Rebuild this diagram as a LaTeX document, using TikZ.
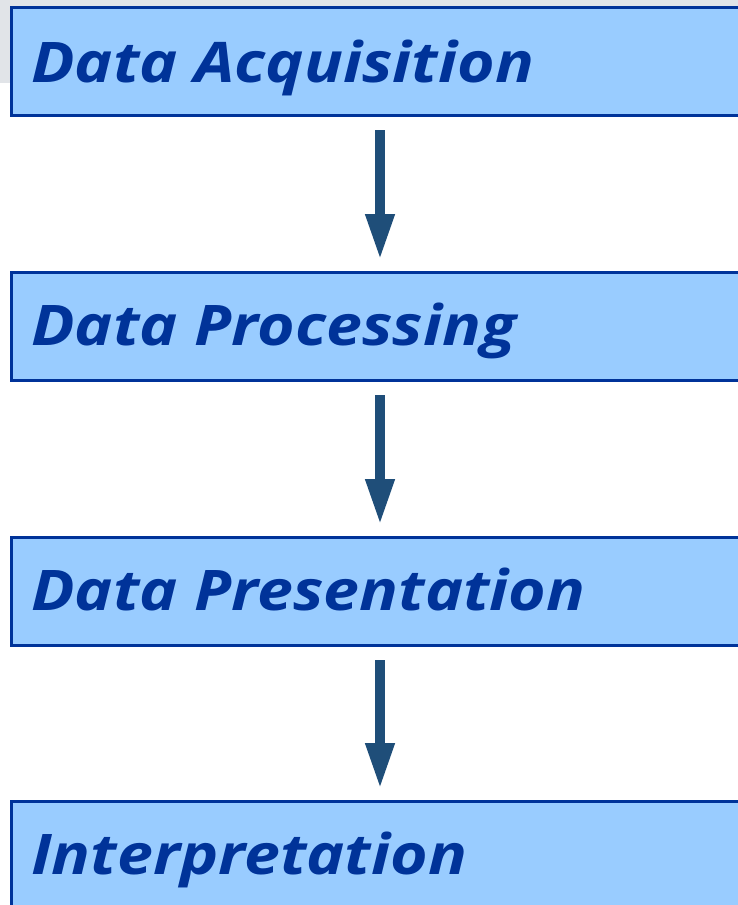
\documentclass[tikz,border=0pt]{standalone}
\usepackage{fontspec}
\setmainfont{Open Sans}
\newfontfamily\stagefont[FakeStretch=1.15]{Open Sans}
\usetikzlibrary{arrows.meta}
\definecolor{boxfill}{HTML}{99CCFF}
\definecolor{boxline}{HTML}{003399}
\definecolor{arrowblue}{HTML}{1F4E79}
\definecolor{bandgrey}{HTML}{E1E4E8}
\tikzset{
  stagebox/.style={draw=boxline, fill=boxfill, line width=3pt, rectangle,
    minimum width=760pt, minimum height=108pt, inner sep=0pt, anchor=north west},
  stagelabel/.style={anchor=base west, inner sep=0pt, text=boxline,
    font=\stagefont\fontsize{56}{60}\selectfont\bfseries\itshape},
  flowarrow/.style={draw=arrowblue, line width=10pt,
    -{Triangle[width=27pt,length=46pt]}, shorten <=13pt, shorten >=11pt}
}
\begin{document}
\begin{tikzpicture}[x=1pt,y=-1pt]
  \useasboundingbox (0,0) rectangle (738,905);
  \clip (0,0) rectangle (738,905);
  \fill[bandgrey] (0,0) rectangle (738,83);
  % the four stages
  \node[stagebox] (s1) at (10,6) {};
  \node[stagebox] (s2) at (10,271) {};
  \node[stagebox] (s3) at (10,536) {};
  \node[stagebox] (s4) at (10,800) {};
  \node[stagelabel] (t1) at (31,82) {Data Acquisition};
  \node[stagelabel] (t2) at (31,345) {Data Processing};
  \node[stagelabel] (t3) at (31,610) {Data Presentation};
  \node[stagelabel] (t4) at (31,874) {Interpretation};
  % arrows between stages
  \draw[flowarrow] ([xshift=370pt]s1.south west) -- ([xshift=370pt]s2.north west);
  \draw[flowarrow] ([xshift=370pt]s2.south west) -- ([xshift=370pt]s3.north west);
  \draw[flowarrow] ([xshift=370pt]s3.south west) -- ([xshift=370pt]s4.north west);
\end{tikzpicture}
\end{document}
